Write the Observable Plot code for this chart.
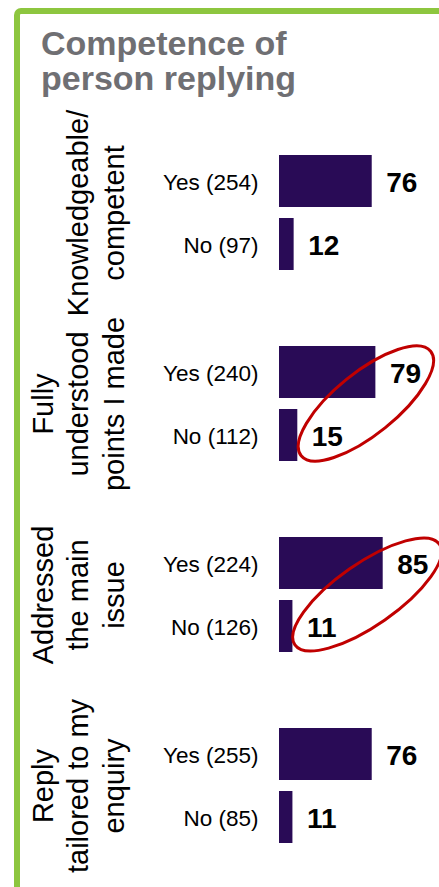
<!DOCTYPE html>
<html>
<head>
<meta charset="utf-8">
<script src="https://cdn.jsdelivr.net/npm/d3@7"></script>
<script src="https://cdn.jsdelivr.net/npm/@observablehq/plot@0.6"></script>
<style>
  html, body { margin: 0; padding: 0; background: #fff; overflow: hidden; }
  body { width: 439px; height: 887px; position: relative; font-family: "Liberation Sans", Arial, sans-serif; }
  #frame {
    position: absolute; left: 14px; top: 8px; width: 520px; height: 1000px;
    box-sizing: border-box; border-left: 6px solid #8dc63f; border-top: 6px solid #8dc63f;
    border-top-left-radius: 7px; pointer-events: none;
  }
  #title {
    height: 100px; box-sizing: border-box; padding: 26px 0 0 41px;
    font: bold 34px/35px "Liberation Sans", Arial, sans-serif; color: #6f6f73;
  }
  #chart { padding-left: 20px; }
  #chart svg { display: block; }
</style>
</head>
<body>
<div id="title">Competence of<br>person replying</div>
<div id="chart"></div>
<div id="frame"></div>
<script>
// Survey questions (one panel each) and the answers per question
const groups = [
  "Knowledgeable/\ncompetent",
  "Fully\nunderstood\npoints I made",
  "Addressed\nthe main\nissue",
  "Reply\ntailored to my\nenquiry"
];
const answers = ["Yes", "No"];
const yesCounts = [254, 240, 224, 255];
const noCounts = [97, 112, 126, 85];
const yesPercent = [76, 79, 85, 76];
const noPercent = [12, 15, 11, 11];
// Questions whose Yes/No results are ringed
const circled = [false, true, true, false];

const rows = groups.flatMap((g, i) => [
  {group: g, answer: "Yes", n: yesCounts[i], value: yesPercent[i], circled: circled[i]},
  {group: g, answer: "No", n: noCounts[i], value: noPercent[i], circled: circled[i]}
]);
const ringed = rows.filter((d) => d.circled);
const groupRows = groups.map((g) => ({group: g}));

const valueFont = 28;
const valueDx = 14;

// Draws an ellipse around the Yes and No value labels of a panel
function ringLabels(index, scales, values) {
  const g = d3.create("svg:g");
  const bw = scales.y.bandwidth ? scales.y.bandwidth() : 0;
  const pts = Array.from(index, (i) => {
    const w = String(ringed[i].value).length * 0.556 * valueFont;
    return {answer: ringed[i].answer, x: values.x[i] + valueDx + w / 2, y: values.y[i] + bw / 2};
  });
  const yes = pts.find((p) => p.answer === "Yes");
  const no = pts.find((p) => p.answer === "No");
  if (!yes || !no) return g.node();
  const cx = (yes.x + no.x) / 2, cy = (yes.y + no.y) / 2;
  const dist = Math.hypot(yes.x - no.x, yes.y - no.y);
  const angle = Math.atan2(yes.y - no.y, yes.x - no.x) * 180 / Math.PI;
  g.append("ellipse")
    .attr("cx", cx).attr("cy", cy)
    .attr("rx", dist / 2 + 33).attr("ry", 31)
    .attr("transform", `rotate(${angle} ${cx} ${cy})`)
    .attr("fill", "none")
    .attr("stroke", "#c00000")
    .attr("stroke-width", 3);
  return g.node();
}

const chart = Plot.plot({
  width: 419,
  height: 787,
  marginLeft: 259,
  marginRight: 38,
  marginTop: 48,
  marginBottom: 37,
  style: {fontFamily: "'Liberation Sans', Arial, sans-serif", color: "#000", background: "transparent", overflow: "visible"},
  x: {domain: [0, 100], axis: null},
  y: {domain: answers, axis: null, paddingInner: 0.17, paddingOuter: 0.085},
  fy: {domain: groups, axis: null, paddingInner: 1 / 3, paddingOuter: 0},
  marks: [
    Plot.barX(rows, {x: "value", y: "answer", fy: "group", fill: "#290b56"}),
    Plot.text(rows, {
      y: "answer", fy: "group", frameAnchor: "left",
      text: (d) => `${d.answer} (${d.n})`,
      textAnchor: "end", dx: -21, dy: 1.5, fontSize: 22.5, fill: "#000"
    }),
    Plot.text(rows, {
      x: "value", y: "answer", fy: "group",
      text: (d) => String(d.value),
      textAnchor: "start", dx: valueDx, dy: 1.5,
      fontSize: valueFont, fontWeight: "bold", fill: "#000"
    }),
    Plot.text(groupRows, {
      fy: "group", text: "group", frameAnchor: "left", textAnchor: "middle",
      rotate: -90, lineAnchor: "bottom", lineHeight: 1.22,
      dx: -156, fontSize: 29, fill: "#000"
    }),
    Plot.dot(ringed, {x: "value", y: "answer", fy: "group", r: 0, render: ringLabels})
  ]
});

document.getElementById("chart").append(chart);
</script>
</body>
</html>
